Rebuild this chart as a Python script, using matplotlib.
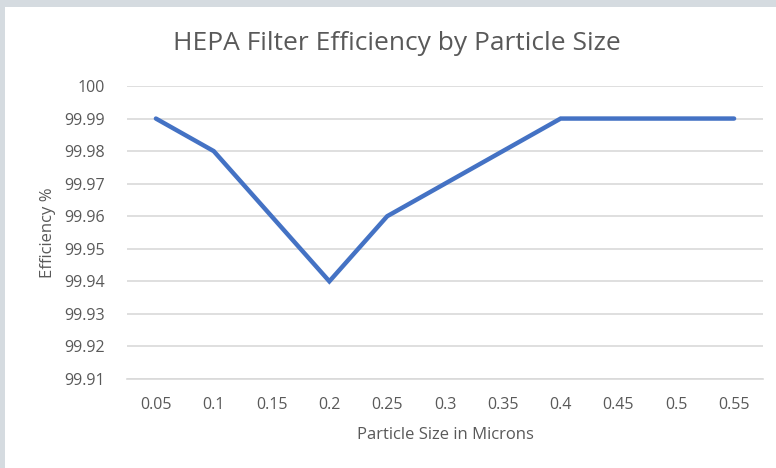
import matplotlib.pyplot as plt
from matplotlib.patches import Rectangle

# Data
sizes = ["0.05", "0.1", "0.15", "0.2", "0.25", "0.3", "0.35", "0.4", "0.45", "0.5", "0.55"]
efficiency = [99.99, 99.98, 99.96, 99.94, 99.96, 99.97, 99.98, 99.99, 99.99, 99.99, 99.99]
y_ticks = [99.91, 99.92, 99.93, 99.94, 99.95, 99.96, 99.97, 99.98, 99.99, 100]
y_labels = ["99.91", "99.92", "99.93", "99.94", "99.95", "99.96", "99.97", "99.98", "99.99", "100"]

plt.rcParams['font.family'] = ['Open Sans', 'DejaVu Sans']
text_color = '#595959'
grid_color = '#D9D9D9'

fig = plt.figure(figsize=(7.76, 4.68), dpi=100)
fig.patch.set_facecolor('white')

# grey frame of the screenshot (top and left strips)
fig.patches.append(Rectangle((0, 1 - 7 / 468), 1, 7 / 468, transform=fig.transFigure,
                             facecolor='#D5DBE0', edgecolor='none', zorder=0))
fig.patches.append(Rectangle((0, 0), 5 / 776, 1, transform=fig.transFigure,
                             facecolor='#D5DBE0', edgecolor='none', zorder=0))

ax = fig.add_axes([127 / 776, 1 - 379 / 468, 636 / 776, 293 / 468])
x = list(range(len(sizes)))
ax.plot(x, efficiency, color='#4472C4', linewidth=3.2, solid_capstyle='round',
        solid_joinstyle='miter', zorder=3)

ax.set_xlim(-0.5, len(sizes) - 0.5)
ax.set_ylim(99.91, 100)
ax.set_yticks(y_ticks)
ax.set_yticklabels(y_labels)
ax.set_xticks(x)
ax.set_xticklabels(sizes)

ax.grid(axis='y', color=grid_color, linewidth=1.2)
ax.set_axisbelow(True)
for s in ['top', 'right', 'left']:
    ax.spines[s].set_visible(False)
ax.spines['bottom'].set_color(grid_color)
ax.spines['bottom'].set_linewidth(1.2)
ax.tick_params(axis='both', length=0, labelsize=11.5, labelcolor=text_color)
ax.tick_params(axis='y', pad=16)
ax.tick_params(axis='x', pad=13)

ax.set_xlabel('Particle Size in Microns', fontsize=12, color=text_color, labelpad=10)
ax.set_ylabel('Efficiency %', fontsize=12, color=text_color, labelpad=6)
fig.text(397 / 776, 1 - 50 / 468, 'HEPA Filter Efficiency by Particle Size',
         ha='center', va='baseline', fontsize=19, color=text_color)

fig.savefig('out.png', dpi=100)
